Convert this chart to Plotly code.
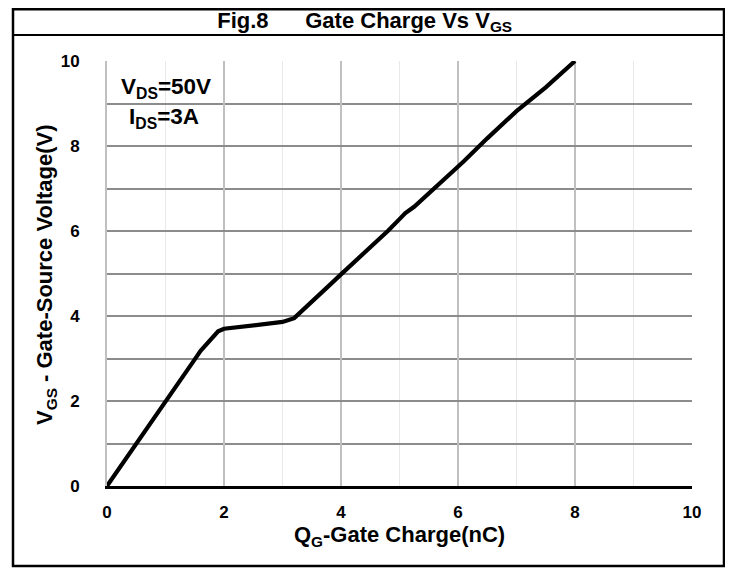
import plotly.graph_objects as go

# Data
qg_nc = [0, 0.5, 1.0, 1.5, 1.6, 1.75, 1.9, 2.0, 2.5, 3.0, 3.2, 3.5, 3.8, 4.0, 4.5, 4.8, 5.0, 5.1, 5.25, 5.5, 6.0, 6.1, 6.5, 7.0, 7.5, 8.0]
vgs_v = [0, 0.98, 1.98, 2.98, 3.18, 3.42, 3.64, 3.70, 3.77, 3.86, 3.95, 4.32, 4.72, 4.98, 5.6, 6.0, 6.28, 6.42, 6.57, 6.88, 7.50, 7.64, 8.18, 8.82, 9.38, 10.0]

x_ticks = [0, 2, 4, 6, 8, 10]
y_ticks = [0, 2, 4, 6, 8, 10]

FONT = "Liberation Sans, Arial, sans-serif"

# plot area in figure pixels (page has an 8px body offset)
W, H = 725, 560
L, R, T, B = 99, 684, 53, 478
PW, PH = R - L, B - T


def px(xf):
    return (xf - L) / PW


def py(yf):
    return (B - yf) / PH


fig = go.Figure()
fig.add_trace(go.Scatter(x=qg_nc, y=vgs_v, mode="lines",
                         line=dict(color="black", width=4.2), showlegend=False))

fig.update_layout(
    width=W, height=H,
    margin=dict(l=L, r=W - R, t=T, b=H - B),
    paper_bgcolor="white", plot_bgcolor="white",
    font=dict(family=FONT, color="black", size=17),
    title=dict(text="<b>Fig.8&nbsp;&nbsp;&nbsp;&nbsp;&nbsp;&nbsp;Gate Charge Vs V<sub>GS</sub></b>",
               x=0.492, xanchor="center", y=1 - 12 / H, yanchor="middle",
               font=dict(family=FONT, size=22, color="black")),
)

fig.update_xaxes(
    range=[0, 10], tickvals=x_ticks, ticktext=[f"<b>{v}</b>" for v in x_ticks],
    showgrid=True, gridcolor="#c0c0c0", gridwidth=2,
    minor=dict(dtick=1, showgrid=True, gridcolor="#e8e8e8", gridwidth=1),
    showline=True, linecolor="black", linewidth=3,
    zeroline=False, ticks="", ticklabelstandoff=9,
    tickfont=dict(size=17),
    title=dict(text="<b>Q<sub>G</sub>-Gate Charge(nC)</b>", font=dict(size=22), standoff=6),
)
fig.update_yaxes(
    range=[0, 10], tickvals=y_ticks, ticktext=[f"<b>{v}</b>" for v in y_ticks],
    showgrid=True, gridcolor="#8c8c8c", gridwidth=2,
    minor=dict(dtick=1, showgrid=True, gridcolor="#8c8c8c", gridwidth=2),
    showline=True, linecolor="#c0c0c0", linewidth=2,
    zeroline=False, ticks="", ticklabelstandoff=22,
    tickfont=dict(size=17),
)

# y-axis title as rotated annotation for exact placement
fig.add_annotation(x=px(38), y=py(267), xref="paper", yref="paper", showarrow=False,
                   text="<b>V<sub>GS</sub> - Gate-Source Voltage(V)</b>", textangle=-90,
                   font=dict(size=22), xanchor="center", yanchor="middle")

# annotations inside plot
fig.add_annotation(x=px(157.5), y=py(80), xref="paper", yref="paper", showarrow=False,
                   text="<b>V<sub>DS</sub>=50V</b>", font=dict(size=22.5), xanchor="center", yanchor="middle")
fig.add_annotation(x=px(156), y=py(110), xref="paper", yref="paper", showarrow=False,
                   text="<b>I<sub>DS</sub>=3A</b>", font=dict(size=22.5), xanchor="center", yanchor="middle")

# outer frame and title separator
fig.add_shape(type="rect", xref="paper", yref="paper",
              x0=px(5), x1=px(716), y0=py(558), y1=py(1.2),
              line=dict(color="black", width=2.5), layer="above")
fig.add_shape(type="line", xref="paper", yref="paper",
              x0=px(5), x1=px(716), y0=py(27), y1=py(27),
              line=dict(color="black", width=2), layer="above")

fig.write_html("out.html")
